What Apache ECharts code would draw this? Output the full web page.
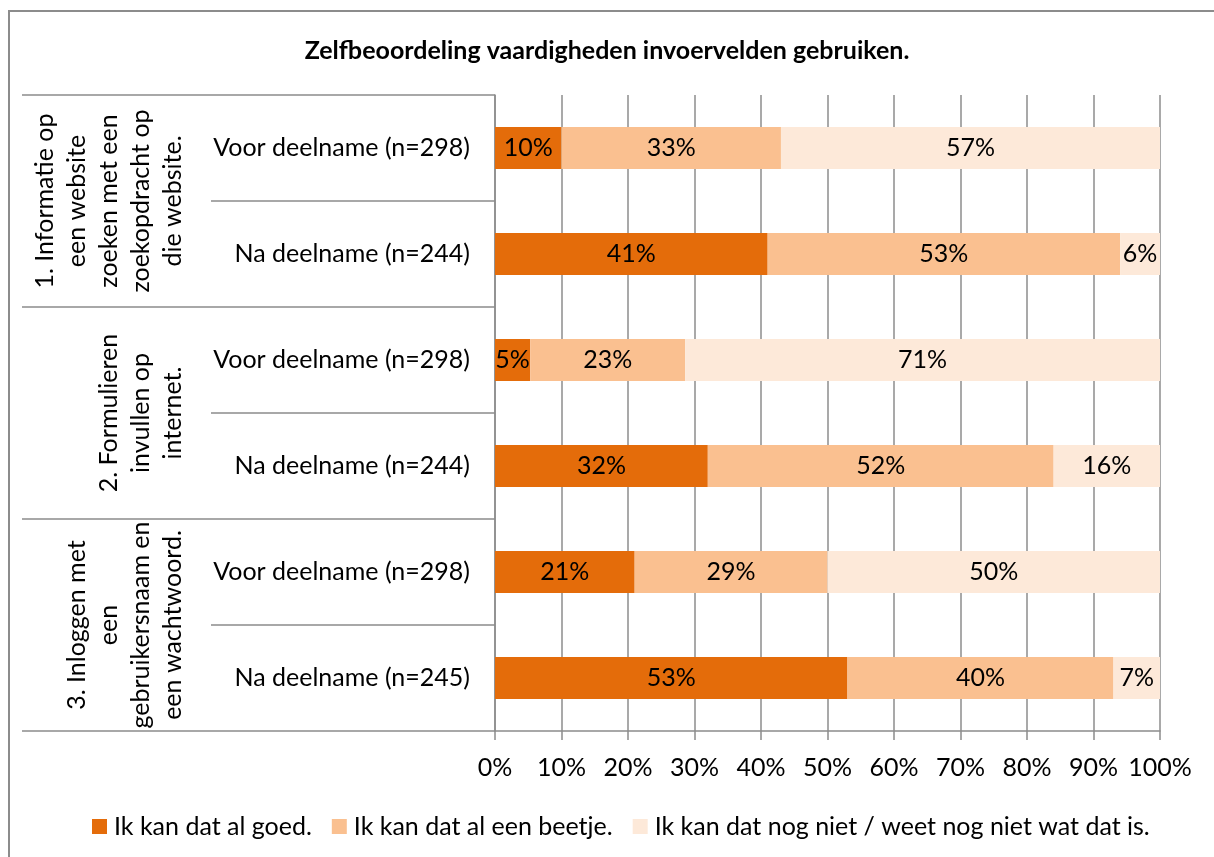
<!DOCTYPE html>
<html><head><meta charset="utf-8">
<script src="https://cdn.jsdelivr.net/npm/echarts@6/dist/echarts.min.js"></script>
<style>html,body{margin:0;padding:0;background:#fff}#c{width:1214px;height:857px}</style>
</head><body><div id="c"></div>
<script>
const titleText = 'Zelfbeoordeling vaardigheden invoervelden gebruiken.';
const groups = [
  '1. Informatie op\neen website\nzoeken met een\nzoekopdracht op\ndie website.',
  '2. Formulieren\ninvullen op\ninternet.',
  '3. Inloggen met\neen\ngebruikersnaam en\neen wachtwoord.'
];
const categories = [
  'Voor deelname (n=298)', 'Na deelname (n=244)',
  'Voor deelname (n=298)', 'Na deelname (n=244)',
  'Voor deelname (n=298)', 'Na deelname (n=245)'
];
const seriesNames = [
  'Ik kan dat al goed.',
  'Ik kan dat al een beetje.',
  'Ik kan dat nog niet / weet nog niet wat dat is.'
];
const goed    = [10, 41, 5.3, 32, 21, 53];
const beetje  = [33, 53, 23.3, 52, 29, 40];
const nogNiet = [57, 6, 71.4, 16, 50, 7];
const colors = ['#E46C0A', '#FAC090', '#FDE9D9'];

const FONT = 'Lato';
const FS = 25;
const GRAY = '#8c8c8c';

const chart = echarts.init(document.getElementById('c'), null, {renderer: 'canvas'});
const mk = (name, data, color) => ({
  name, type: 'bar', stack: 'total', data, barWidth: 42,
  itemStyle: {color},
  label: {show: true, position: 'inside', color: '#000', fontFamily: FONT, fontSize: FS,
    formatter: p => Math.round(p.value) + '%'}
});
chart.setOption({
  animation: false,
  backgroundColor: '#fff',
  title: {text: titleText, left: 'center', top: 33,
    textStyle: {fontFamily: FONT, fontWeight: 'bold', fontSize: 25, color: '#000'}},
  grid: {left: 495, right: 54, top: 95, bottom: 126, containLabel: false},
  legend: {data: seriesNames, left: 87, top: 809, icon: 'rect', itemWidth: 15, itemHeight: 15, itemGap: 20,
    textStyle: {fontFamily: FONT, fontSize: FS, color: '#000', padding: [0, 0, 0, 2]}},
  xAxis: {type: 'value', min: 0, max: 100, interval: 10,
    axisLine: {show: true, lineStyle: {color: GRAY, width: 1.5}},
    axisTick: {show: true, length: 9, lineStyle: {color: GRAY, width: 1.5}},
    splitLine: {show: true, lineStyle: {color: GRAY, width: 1.5}},
    axisLabel: {formatter: '{value}%', margin: 24, fontFamily: FONT, fontSize: FS, color: '#000'}},
  yAxis: [
    {type: 'category', data: categories, inverse: true,
      axisLine: {show: true, lineStyle: {color: GRAY, width: 1.5}},
      axisTick: {show: true, length: 284, lineStyle: {color: GRAY, width: 1.5}},
      axisLabel: {interval: 0, margin: 25, fontFamily: FONT, fontSize: FS, color: '#000'}},
    {type: 'category', data: groups, inverse: true, position: 'left', offset: 0,
      axisLine: {show: false},
      axisTick: {show: true, length: 473, lineStyle: {color: GRAY, width: 1.5}},
      axisLabel: {interval: 0, rotate: 90, margin: 306, fontFamily: FONT, fontSize: FS, lineHeight: 32, color: '#000'}}
  ],
  series: [mk(seriesNames[0], goed, colors[0]), mk(seriesNames[1], beetje, colors[1]), mk(seriesNames[2], nogNiet, colors[2])],
  graphic: [{type: 'rect', shape: {x: 9, y: 11, width: 1400, height: 1000}, silent: true,
    style: {fill: 'none', stroke: GRAY, lineWidth: 2}}]
});
</script></body></html>
